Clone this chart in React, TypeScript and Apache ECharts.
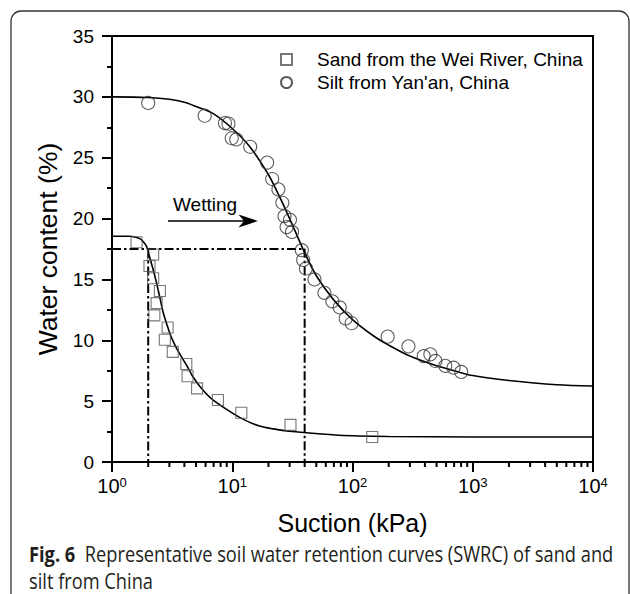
import React, { useEffect, useRef } from "react";
import * as echarts from "echarts";

// Measured points: sand (squares)
const sandSuction = [1.6, 2.2, 2.05, 2.2, 2.5, 2.35, 2.25, 2.9, 2.75, 3.2, 4.15, 4.25, 5.1, 7.6, 11.9, 30.5, 146];
const sandWater = [18.05, 17.05, 16.1, 15.1, 14.05, 13.05, 12.05, 11.05, 10.05, 9.05, 8.05, 7.05, 6.05, 5.1, 4.05, 3.05, 2.05];

// Measured points: silt (circles)
const siltSuction = [2.0, 5.9, 8.7, 9.3, 9.9, 10.8, 14.1, 19.5, 21.5, 24.2, 26.1, 27.2, 30.2, 28.3, 31.4, 37.9, 38.9, 41, 48.3, 58.4, 68, 78.3, 87.8, 98.4, 196, 292, 391, 444, 489, 591, 693, 802];
const siltWater = [29.5, 28.45, 27.85, 27.8, 26.6, 26.5, 25.9, 24.6, 23.25, 22.4, 21.3, 20.2, 19.9, 19.3, 18.9, 17.4, 16.6, 15.9, 15.0, 13.9, 13.2, 12.7, 11.8, 11.4, 10.3, 9.5, 8.7, 8.85, 8.3, 7.9, 7.75, 7.4];

// Fitted curves
const sandCurveSuction = [1, 1.4, 1.6, 1.7, 1.8, 1.94, 2.06, 2.2, 2.35, 2.5, 2.68, 3.02, 3.3, 3.65, 4.2, 4.71, 5.6, 6.9, 10.1, 13, 16.8, 22, 31.8, 77, 200, 1000, 10000];
const sandCurveWater = [18.55, 18.55, 18.45, 18.35, 18.15, 17.7, 16.8, 15.8, 14.7, 13.5, 12.2, 10.6, 9.7, 8.9, 7.9, 7.0, 6.0, 5.1, 4.0, 3.4, 2.95, 2.72, 2.5, 2.2, 2.1, 2.06, 2.05];

const siltCurveSuction = [1, 2, 3, 4, 5, 7, 10, 14, 20, 25, 30, 40, 50, 70, 100, 150, 200, 300, 500, 700, 1000, 2000, 5000, 10000];
const siltCurveWater = [30.0, 29.95, 29.8, 29.55, 29.2, 28.6, 27.4, 25.9, 23.6, 21.7, 20.0, 17.2, 15.3, 13.3, 11.7, 10.35, 9.6, 8.7, 7.9, 7.5, 7.1, 6.7, 6.35, 6.25];

// Reference (dash-dot) lines
const refWater = 17.5;
const refSuctions = [2, 40];

// Axis ticks
const yTicks = [0, 5, 10, 15, 20, 25, 30, 35];
const xDecades = [1, 10, 100, 1000, 10000];
const minorMultipliers = [2, 3, 4, 5, 6, 7, 8, 9];

const sandName = "Sand from the Wei River, China";
const siltName = "Silt from Yan'an, China";

const FONT = "Arial";
const CAPTION_FONT = "Open Sans";
const DASHDOT = [9, 3, 2.5, 3];

export default function App() {
  const ref = useRef<HTMLDivElement>(null);

  useEffect(() => {
    if (!ref.current) return;
    const chart = echarts.init(ref.current, undefined, { renderer: "svg" });

    const minorTicks: number[][] = [];
    for (let i = 0; i < xDecades.length - 1; i++) {
      for (const m of minorMultipliers) minorTicks.push([xDecades[i] * m, 0]);
    }

    const hollow = { color: "rgba(0,0,0,0)", borderWidth: 1.1 };

    chart.setOption({
      animation: false,
      backgroundColor: "#fff",
      grid: {
        left: 112,
        right: 37,
        top: 36,
        bottom: 132,
        show: true,
        borderColor: "#000",
        borderWidth: 2,
        backgroundColor: "transparent",
      },
      legend: {
        orient: "vertical",
        left: 275,
        top: 45,
        itemWidth: 11,
        itemHeight: 11,
        itemGap: 4,
        textStyle: {
          fontFamily: FONT,
          fontSize: 19,
          color: "#000",
          lineHeight: 19,
          padding: [0, 0, 0, 20],
        },
        data: [
          { name: sandName, icon: "rect" },
          { name: siltName, icon: "circle" },
        ],
      },
      xAxis: {
        type: "log",
        logBase: 10,
        min: xDecades[0],
        max: xDecades[xDecades.length - 1],
        name: "Suction (kPa)",
        nameLocation: "middle",
        nameGap: 48,
        nameTextStyle: { fontFamily: FONT, fontSize: 25, color: "#000" },
        axisLine: { show: true, onZero: false, lineStyle: { color: "#000", width: 2 } },
        axisTick: { show: true, length: 10, lineStyle: { color: "#000", width: 2 } },
        splitLine: { show: false },
        axisLabel: {
          margin: 14,
          formatter: (v: number) => `{b|10}{s|${Math.round(Math.log10(v))}}`,
          rich: {
            b: { fontFamily: FONT, fontSize: 20, color: "#000", lineHeight: 20 },
            s: { fontFamily: FONT, fontSize: 13, color: "#000", verticalAlign: "top", lineHeight: 13 },
          },
        },
      },
      yAxis: {
        type: "value",
        min: yTicks[0],
        max: yTicks[yTicks.length - 1],
        interval: 5,
        name: "Water content (%)",
        nameLocation: "middle",
        nameGap: 50,
        nameTextStyle: { fontFamily: FONT, fontSize: 26.5, color: "#000" },
        axisLine: { show: true, lineStyle: { color: "#000", width: 2 } },
        axisTick: { show: true, length: 10, lineStyle: { color: "#000", width: 2 } },
        minorTick: { show: true, splitNumber: 2, length: 5, lineStyle: { color: "#000", width: 2 } },
        splitLine: { show: false },
        minorSplitLine: { show: false },
        axisLabel: { margin: 18, fontFamily: FONT, fontSize: 19, color: "#000" },
      },
      series: [
        {
          type: "custom",
          name: "minorTicks",
          silent: true,
          clip: false,
          data: minorTicks,
          renderItem: (params: any, api: any) => {
            const p = api.coord([api.value(0), api.value(1)]);
            return {
              type: "line",
              shape: { x1: p[0], y1: p[1], x2: p[0], y2: p[1] + 5 },
              style: { stroke: "#000", lineWidth: 2 },
            };
          },
        },
        {
          type: "line",
          name: "ref1",
          data: [[xDecades[0], refWater], [refSuctions[1], refWater], [refSuctions[1], 0]],
          showSymbol: false,
          silent: true,
          lineStyle: { color: "#000", width: 2, type: DASHDOT },
          z: 1,
        },
        {
          type: "line",
          name: "ref2",
          data: [[refSuctions[0], refWater], [refSuctions[0], 0]],
          showSymbol: false,
          silent: true,
          lineStyle: { color: "#000", width: 2, type: DASHDOT },
          z: 1,
        },
        {
          type: "line",
          name: "sandFit",
          data: sandCurveSuction.map((x, i) => [x, sandCurveWater[i]]),
          showSymbol: false,
          smooth: 0.3,
          silent: true,
          lineStyle: { color: "#000", width: 1.6 },
          z: 2,
        },
        {
          type: "line",
          name: "siltFit",
          data: siltCurveSuction.map((x, i) => [x, siltCurveWater[i]]),
          showSymbol: false,
          smooth: 0.3,
          silent: true,
          lineStyle: { color: "#000", width: 1.6 },
          z: 2,
        },
        {
          type: "scatter",
          name: sandName,
          symbol: "rect",
          symbolSize: 11,
          data: sandSuction.map((x, i) => [x, sandWater[i]]),
          itemStyle: { ...hollow, borderColor: "#555" },
          z: 3,
        },
        {
          type: "scatter",
          name: siltName,
          symbol: "circle",
          symbolSize: 13,
          data: siltSuction.map((x, i) => [x, siltWater[i]]),
          itemStyle: { ...hollow, borderColor: "#333" },
          z: 3,
        },
      ],
      graphic: [
        {
          type: "rect",
          shape: { x: 11, y: 11, width: 618, height: 620, r: 10 },
          style: { fill: "none", stroke: "#333", lineWidth: 1.3 },
          silent: true,
        },
        {
          type: "text",
          x: 173,
          y: 204,
          style: { text: "Wetting", fontFamily: FONT, fontSize: 19, fill: "#000", verticalAlign: "middle" },
        },
        {
          type: "line",
          shape: { x1: 168, y1: 221, x2: 246, y2: 221 },
          style: { stroke: "#000", lineWidth: 1.6 },
        },
        {
          type: "polygon",
          shape: { points: [[258, 221], [238.5, 214.5], [244, 221], [238.5, 227.5]] },
          style: { fill: "#000" },
        },
        {
          type: "text",
          x: 29,
          y: 553,
          scaleX: 0.83,
          style: {
            text: "{b|Fig. 6}  Representative soil water retention curves (SWRC) of sand and",
            fontFamily: CAPTION_FONT,
            fontSize: 22,
            fill: "#231f20",
            verticalAlign: "middle",
            rich: { b: { fontWeight: "bold", fontFamily: CAPTION_FONT, fontSize: 22, fill: "#231f20" } },
          },
        },
        {
          type: "text",
          x: 29,
          y: 580,
          scaleX: 0.83,
          style: {
            text: "silt from China",
            fontFamily: CAPTION_FONT,
            fontSize: 22,
            fill: "#231f20",
            verticalAlign: "middle",
          },
        },
      ],
    });

    return () => chart.dispose();
  }, []);

  return (
    <div
      ref={ref}
      style={{ position: "fixed", left: 0, top: 0, width: 630, height: 594, background: "#fff" }}
    />
  );
}
